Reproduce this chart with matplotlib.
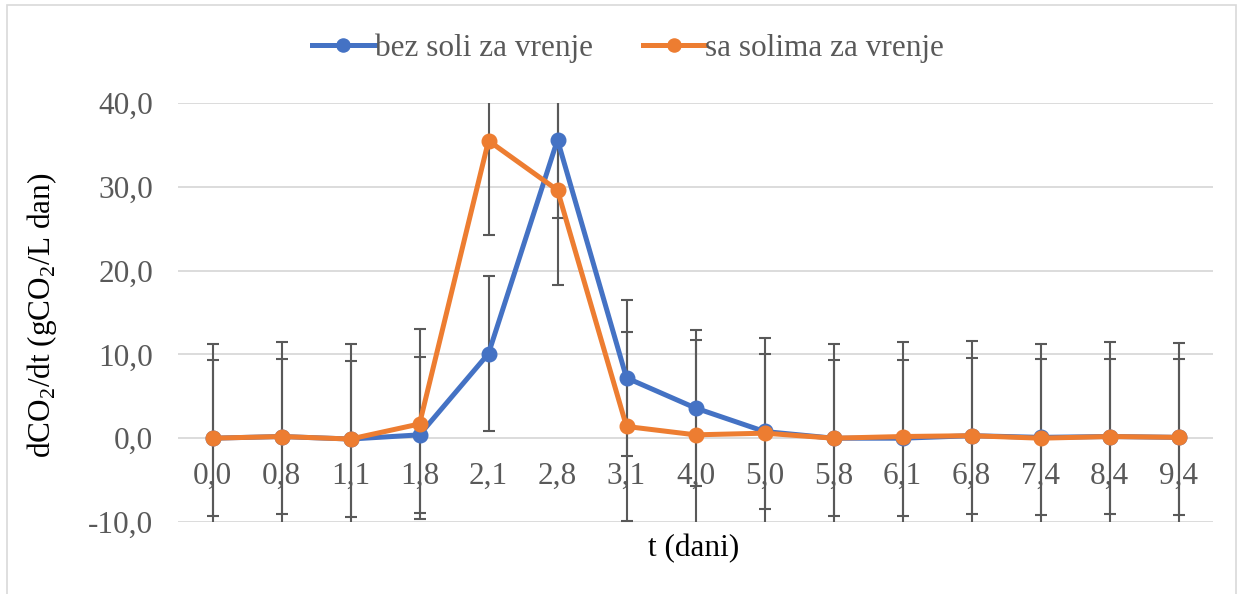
import numpy as np
import matplotlib
matplotlib.use("Agg")
import matplotlib.pyplot as plt
from matplotlib.patches import Rectangle

plt.rcParams["font.family"] = ["Liberation Serif", "DejaVu Serif"]
plt.rcParams["mathtext.fontset"] = "custom"
plt.rcParams["mathtext.rm"] = "Liberation Serif"

# data
t_labels = ["0,0", "0,8", "1,1", "1,8", "2,1", "2,8", "3,1", "4,0",
            "5,0", "5,8", "6,1", "6,8", "7,4", "8,4", "9,4"]
bez_soli = [0.0, 0.2, -0.1, 0.4, 10.1, 35.6, 7.2, 3.6,
            0.8, 0.0, 0.0, 0.3, 0.1, 0.2, 0.1]
sa_solima = [0.0, 0.2, -0.1, 1.7, 35.5, 29.6, 1.4, 0.4,
             0.6, 0.0, 0.2, 0.3, 0.0, 0.2, 0.1]
err_bez = 9.3
err_sa = 11.3

blue = "#4472C4"
orange = "#ED7D31"
gray = "#595959"
fs = 22.5

fig = plt.figure(figsize=(12.38, 5.94), dpi=100)
ax = fig.add_axes([178 / 1238, 1 - 522 / 594, (1213 - 178) / 1238, (522 - 103) / 594])

x = np.arange(len(t_labels))

# error bars behind the lines
ax.errorbar(x, bez_soli, yerr=err_bez, fmt="none", ecolor=gray,
            elinewidth=1.5, capsize=4, capthick=1.5, zorder=2)
ax.errorbar(x, sa_solima, yerr=err_sa, fmt="none", ecolor=gray,
            elinewidth=1.5, capsize=4, capthick=1.5, zorder=2)

ax.plot(x, bez_soli, color=blue, lw=3.6, marker="o", ms=10.5,
        label="bez soli za vrenje", zorder=3)
ax.plot(x, sa_solima, color=orange, lw=3.6, marker="o", ms=10.5,
        label="sa solima za vrenje", zorder=4)

ax.set_ylim(-10, 40)
ax.set_xlim(-0.5, len(t_labels) - 0.5)
ax.set_yticks([-10, 0, 10, 20, 30, 40])
ax.set_yticklabels(["-10,0", "0,0", "10,0", "20,0", "30,0", "40,0"])
ax.yaxis.grid(True, color="#D9D9D9", lw=1.3)
ax.set_axisbelow(True)
for s in ax.spines.values():
    s.set_visible(False)
ax.tick_params(axis="y", length=0, labelsize=fs, labelcolor=gray, pad=18)

# category labels sit next to the y=0 line
ax.spines["bottom"].set_position(("data", 0))
ax.set_xticks(x)
ax.set_xticklabels(t_labels)
ax.tick_params(axis="x", length=0, labelsize=fs, labelcolor=gray, pad=17)

fig.text(694 / 1238, 1 - 549 / 594, "t (dani)", ha="center", va="center", fontsize=fs)
fig.text(42 / 1238, 1 - 315 / 594, r"dCO$_\mathrm{2}$/dt (gCO$_\mathrm{2}$/L dan)",
         ha="center", va="center", rotation=90, fontsize=fs)

leg = fig.legend(loc="center", bbox_to_anchor=(628 / 1238, 1 - 48 / 594), ncol=2,
                 frameon=False, fontsize=fs, handlelength=2.0, handletextpad=0.0,
                 columnspacing=1.6, markerscale=0.9)
for txt in leg.get_texts():
    txt.set_color(gray)

fig.patches.append(Rectangle((7 / 1238, -0.01), 1 - 9 / 1238, 1.01 - 5 / 594,
                             transform=fig.transFigure, fill=False,
                             edgecolor="#D9D9D9", lw=1.2))

fig.savefig("out.png", dpi=100)
